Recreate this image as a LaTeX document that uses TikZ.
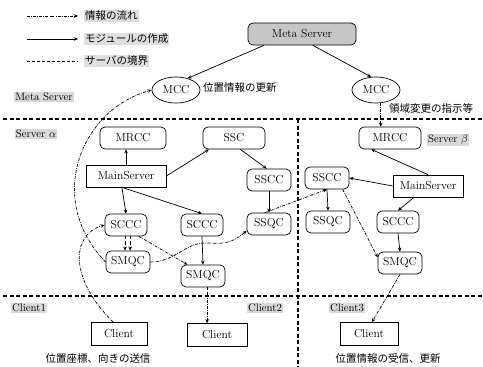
\documentclass[tikz,border=0pt]{standalone}
\usepackage{fontspec}
\newfontfamily\jp{Noto Sans CJK JP}
\usetikzlibrary{arrows.meta,shapes.geometric,calc}
\tikzset{
  base/.style={font=\fontsize{11.6}{13}\selectfont, line width=0.7pt, inner sep=1pt},
  rbox/.style={base, draw, rounded corners=5pt, minimum width=44pt, minimum height=22pt},
  sbox/.style={base, draw, rectangle, minimum height=22pt},
  ell/.style={base, draw, ellipse, minimum width=48pt, minimum height=26pt, inner sep=0pt},
  mk/.style={-{Stealth[length=4pt,width=3.5pt]}, line width=0.7pt},
  flow/.style={-{Stealth[length=4pt,width=3.5pt]}, line width=0.7pt, dash pattern=on 3pt off 1.2pt on 0.7pt off 1.2pt},
  bound/.style={line width=1.1pt, dash pattern=on 4pt off 2.5pt},
  lab/.style={fill=gray!30, inner sep=1pt, font=\fontsize{10.8}{12}\selectfont},
  jtxt/.style={font=\jp\fontsize{10.5}{12}\selectfont, inner sep=1pt},
}
\begin{document}
\begin{tikzpicture}[x=1pt,y=-1pt]
\useasboundingbox (0,0) rectangle (483,367);

% legend
\coordinate (l1a) at (27,16); \coordinate (l1b) at (78,16);
\coordinate (l2a) at (27,39); \coordinate (l2b) at (78,39);
\coordinate (l3a) at (27,61); \coordinate (l3b) at (78,61);
\draw[flow] (l1a) -- (l1b);
\draw[mk] (l2a) -- (l2b);
\draw[line width=0.8pt, dash pattern=on 3pt off 2pt] (l3a) -- (l3b);
\node[jtxt, fill=gray!25, anchor=west] (lg1) at (84,16) {情報の流れ};
\node[jtxt, fill=gray!25, anchor=west] (lg2) at (84,39) {モジュールの作成};
\node[jtxt, fill=gray!25, anchor=west] (lg3) at (84,61) {サーバの境界};

% boundaries
\coordinate (b1l) at (3,119); \coordinate (b1r) at (483,119);
\coordinate (b2l) at (3,296); \coordinate (b2r) at (483,296);
\coordinate (vt) at (298,119); \coordinate (vb) at (298,367);
\draw[bound] (b1l) -- (b1r);
\draw[bound] (b2l) -- (b2r);
\draw[bound] (vt) -- (vb);

% region labels
\node[lab] (lmeta) at (44,97) {Meta Server};
\node[lab] (lsa) at (36,134) {Server $\alpha$};
\node[lab] (lsb) at (448,140) {Server $\beta$};
\node[lab] (lc1) at (29,308) {Client1};
\node[lab] (lc2) at (265,308) {Client2};
\node[lab] (lc3) at (347,308) {Client3};

% nodes
\node[rbox, fill=gray!45, minimum width=108pt] (meta) at (302,34) {Meta Server};
\node[ell] (mccL) at (176,90) {MCC};
\node[ell] (mccR) at (376,90) {MCC};
\node[rbox, minimum width=66pt] (mrccL) at (133,138) {MRCC};
\node[rbox, minimum width=62pt] (ssc) at (234,138) {SSC};
\node[sbox, minimum width=80pt] (msL) at (126,176) {MainServer};
\node[rbox] (ssccL) at (269,180) {SSCC};
\node[rbox] (ssqcL) at (269,224) {SSQC};
\node[rbox, minimum width=42pt] (sccc1) at (126,225) {SCCC};
\node[rbox, minimum width=42pt] (sccc2) at (202,225) {SCCC};
\node[rbox] (smqc1) at (128,262) {SMQC};
\node[rbox] (smqc2) at (203,276) {SMQC};
\node[rbox, minimum width=62pt] (mrccR) at (390,138) {MRCC};
\node[rbox] (ssccR) at (327,178) {SSCC};
\node[sbox, minimum width=70pt] (msR) at (428,186) {MainServer};
\node[rbox] (ssqcR) at (328,222) {SSQC};
\node[rbox, minimum width=42pt] (scccR) at (398,222) {SCCC};
\node[rbox] (smqcR) at (400,263) {SMQC};
\node[sbox, minimum width=56pt, minimum height=23pt] (cl1) at (119,334) {Client};
\node[sbox, minimum width=60pt, minimum height=23pt] (cl2) at (217,335) {Client};
\node[sbox, minimum width=58pt, minimum height=23pt] (cl3) at (369,334) {Client};

% texts
\node[jtxt, anchor=west] (t1) at (202,88) {位置情報の更新};
\node[jtxt, anchor=west] (t2) at (388,108) {領域変更の指示等};
\node[jtxt] (t3) at (98,359) {位置座標、向きの送信};
\node[jtxt] (t4) at (388,359) {位置情報の受信、更新};

% module creation (solid)
\draw[mk] ($(meta.south west)!0.15!(meta.south east)$) -- (mccL.45);
\draw[mk] ($(meta.south west)!0.6!(meta.south east)$) -- (mccR.110);
\draw[mk] (msL.north) -- (msL.north |- mrccL.south);
\draw[mk] (msL.east) -- ($(ssc.south west)!0.1!(ssc.south east)$);
\draw[mk] ($(ssc.south west)!0.6!(ssc.south east)$) -- ($(ssccL.north west)!0.45!(ssccL.north east)$);
\draw[mk] ($(msL.south west)!0.45!(msL.south east)$) -- (sccc1.north);
\draw[mk] ($(msL.south west)!0.45!(msL.south east)$) -- (sccc2.north);
\draw[mk] (ssccL.south) -- (ssqcL.north);
\draw[mk] (sccc2.south) -- (smqc2.north);
\draw[mk] ($(msR.north west)!0.5!(msR.north east)$) -- ($(mrccR.south west)!0.2!(mrccR.south east)$);
\draw[mk] (msR.west) -- (ssccR.east);
\draw[mk] ($(msR.south west)!0.3!(msR.south east)$) -- (scccR.north);
\draw[mk] (ssccR.south) -- (ssqcR.north);
\draw[mk] (scccR.south) -- (smqcR.north);

% information flow (dash-dot)
\draw[flow] (mccR.290) -- (mccR.290 |- mrccR.north);
\draw[flow] (sccc1.265) -- (sccc1.265 |- smqc1.north);
\draw[flow] (sccc1.290) -- (sccc1.290 |- smqc1.north);
\draw[flow] ($(sccc1.south west)!0.8!(sccc1.south east)$) -- ($(smqc2.north west)!0.15!(smqc2.north east)$);
\draw[flow] (smqc1.east) .. controls (175,262) and (185,243) .. (205,243) .. controls (222,243) and (228,246) .. ($(ssqcL.south west)!0.2!(ssqcL.north west)$);
\draw[flow] (ssqcL.110) -- (ssccR.south);
\draw[flow] ($(ssccR.south west)!0.85!(ssccR.south east)$) -- ($(smqcR.north west)!0.25!(smqcR.south west)$);
\draw[flow] (smqcR.south) -- ($(cl3.north west)!0.55!(cl3.north east)$);
\draw[flow] (smqc2.290) -- (smqc2.290 |- cl2.north);
\draw[flow] (smqc1.west) .. controls (45,200) and (80,110) .. (mccL.west);
\draw[flow] ($(cl1.north west)!0.4!(cl1.north east)$) .. controls (70,280) and (70,235) .. (sccc1.west);
\end{tikzpicture}
\end{document}
